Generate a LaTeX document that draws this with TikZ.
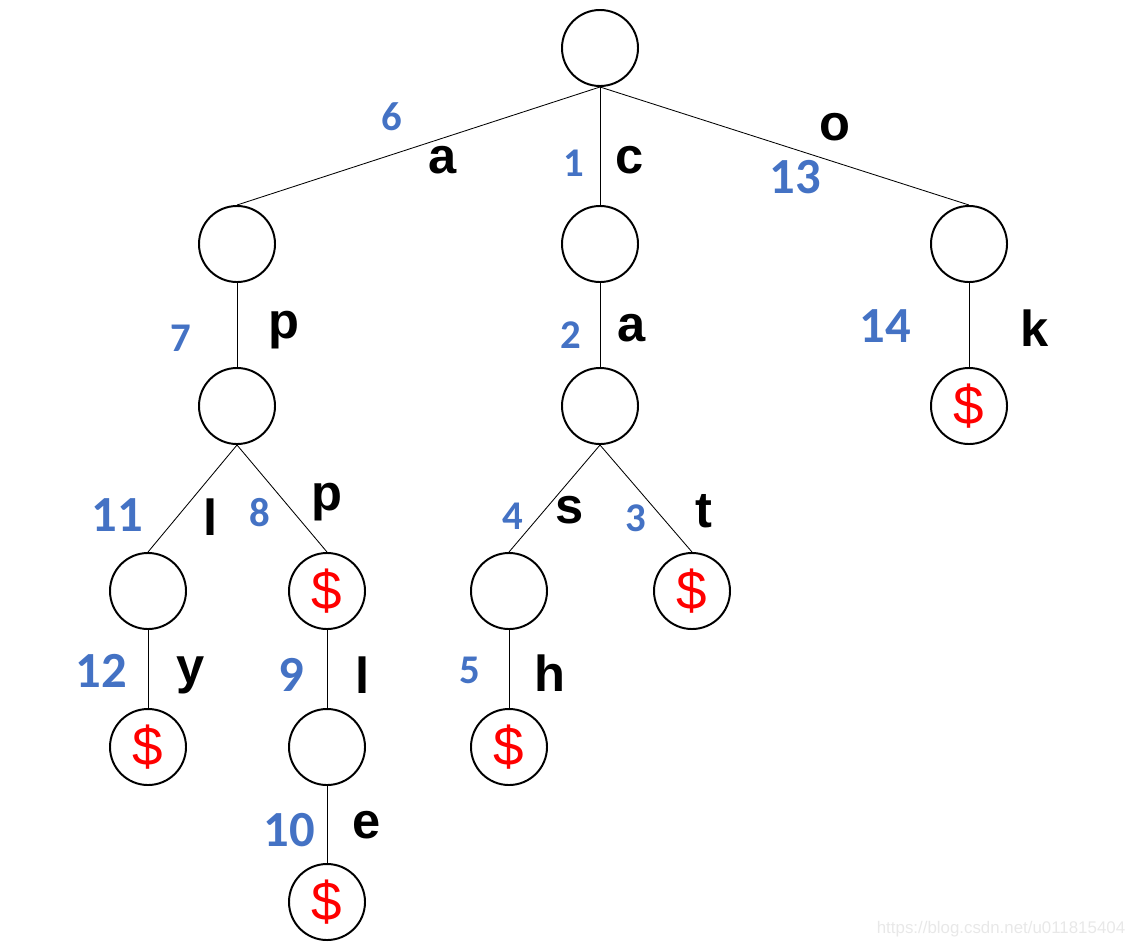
\documentclass[tikz,border=0pt]{standalone}
\usepackage{fontspec}
\setmainfont{Liberation Sans}
\newfontfamily\numfont{Carlito}
\definecolor{numblue}{RGB}{68,114,196}
\definecolor{dollarred}{RGB}{255,0,0}
\definecolor{markgray}{RGB}{232,232,232}
\newcommand{\triedollar}{\raisebox{-2pt}{\$}}

\tikzset{
  trienode/.style={circle, draw, line width=1.4pt, minimum size=1.9cm, inner sep=0pt},
  endnode/.style={trienode, text=dollarred, font=\fontsize{39}{42}\selectfont},
  edgechar/.style={font=\bfseries\fontsize{36}{40}\selectfont, inner sep=0pt},
  bignum/.style={text=numblue, font=\numfont\bfseries\fontsize{36}{40}\selectfont, inner sep=0pt},
  smallnum/.style={text=numblue, font=\numfont\bfseries\fontsize{29}{32}\selectfont, inner sep=0pt},
}

\begin{document}
\begin{tikzpicture}[x=0.025cm, y=-0.025cm]
        \useasboundingbox (0, 0) rectangle (1128, 947);
        % nodes of the trie
        \node[trienode] (root) at (600, 48) {};
        \node[trienode] (a) at (237, 244) {};
        \node[trienode] (c) at (600, 244) {};
        \node[trienode] (o) at (969, 244) {};
        \node[trienode] (ap) at (237, 406) {};
        \node[trienode] (ca) at (600, 406) {};
        \node[endnode] (ok) at (969, 406) {\triedollar};
        \node[trienode] (apl) at (148, 591) {};
        \node[endnode] (app) at (327, 591) {\triedollar};
        \node[trienode] (cas) at (509, 591) {};
        \node[endnode] (cat) at (692, 591) {\triedollar};
        \node[endnode] (aply) at (148, 747) {\triedollar};
        \node[trienode] (appl) at (327, 747) {};
        \node[endnode] (cash) at (509, 747) {\triedollar};
        \node[endnode] (apple) at (327, 902) {\triedollar};
        % edges
        \foreach \u/\v in {root/a, root/c, root/o, a/ap, c/ca, o/ok, ap/apl, ap/app,
                ca/cas, ca/cat, apl/aply, app/appl, cas/cash, appl/apple}
                \draw[line width=0.6pt] (\u.south) -- (\v.north);
        % edge letters
        \node[edgechar] (la) at (443, 160) {a};
        \node[edgechar] (lc) at (630, 160) {c};
        \node[edgechar] (lo) at (835, 127) {o};
        \node[edgechar] (lap) at (284, 330) {p};
        \node[edgechar] (lca) at (632, 328) {a};
        \node[edgechar] (lok) at (1035, 328) {k};
        \node[edgechar] (lapl) at (211, 517) {l};
        \node[edgechar] (lapp) at (327, 502) {p};
        \node[edgechar] (lcas) at (570, 510) {s};
        \node[edgechar] (lcat) at (704, 511) {t};
        \node[edgechar] (laply) at (191, 675) {y};
        \node[edgechar] (lappl) at (363, 675) {l};
        \node[edgechar] (lcash) at (550, 673) {h};
        \node[edgechar] (lapple) at (367, 825) {e};
        % insertion order
        \node[smallnum] (n6) at (392, 117) {6};
        \node[smallnum] (n1) at (574, 163) {1};
        \node[bignum] (n13) at (795, 177) {13};
        \node[smallnum] (n7) at (181, 338) {7};
        \node[smallnum] (n2) at (571, 335) {2};
        \node[bignum] (n14) at (885, 326) {14};
        \node[bignum] (n11) at (117, 515) {11};
        \node[smallnum] (n8) at (260, 513) {8};
        \node[smallnum] (n4) at (513, 516) {4};
        \node[smallnum] (n3) at (636, 518) {3};
        \node[bignum] (n12) at (101, 671) {12};
        \node[bignum] (n9) at (291, 675) {9};
        \node[smallnum] (n5) at (470, 670) {5};
        \node[bignum] (n10) at (289, 830) {10};
        \node[text=markgray, font=\fontsize{12}{14}\selectfont] (mark) at (1001, 929) {https://blog.csdn.net/u011815404};
    \end{tikzpicture}
\end{document}
